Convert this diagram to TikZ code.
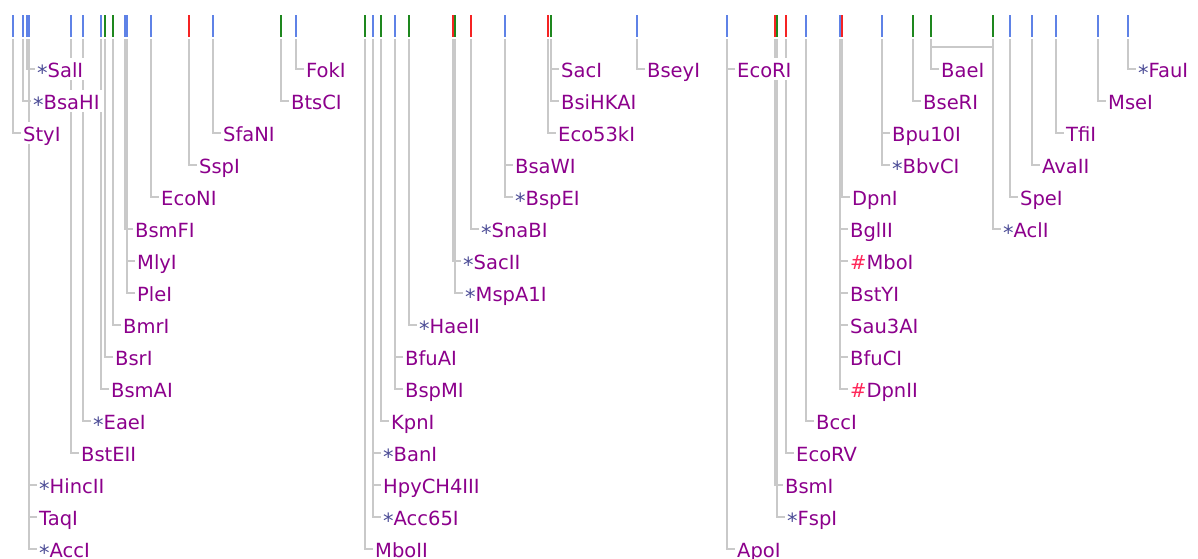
\documentclass[tikz,border=0pt]{standalone}
\usepackage{fontspec}
\setmainfont{DejaVu Sans}
\pgfdeclarelayer{background}
\pgfsetlayers{background,main}
\definecolor{siteblue}{RGB}{95,130,230}
\definecolor{sitegreen}{RGB}{30,135,30}
\definecolor{sitered}{RGB}{245,35,35}
\definecolor{enzpurple}{RGB}{140,0,140}
\definecolor{starblue}{RGB}{75,75,150}
\definecolor{hashred}{RGB}{255,40,90}
\newcommand\pfxn{}
\newcommand\pfxs{\textcolor{starblue}{\raisebox{-0.17em}{\fontsize{21}{21}\selectfont*}}}
\newcommand\pfxh{\textcolor{hashred}{\#}}
\def\enzymes{
    13/3/siteblue/n/StyI, 23/2/siteblue/s/BsaHI, 27/1/siteblue/s/SalI,
    29/14/siteblue/s/HincII, 29/15/siteblue/n/TaqI, 29/16/siteblue/s/AccI,
    71/13/siteblue/n/BstEII, 83/12/siteblue/s/EaeI, 101/11/siteblue/n/BsmAI,
    105/10/sitegreen/n/BsrI, 113/9/sitegreen/n/BmrI, 125/6/siteblue/n/BsmFI,
    127/7/siteblue/n/MlyI, 127/8/siteblue/n/PleI, 151/5/siteblue/n/EcoNI,
    189/4/sitered/n/SspI, 213/3/siteblue/n/SfaNI, 281/2/sitegreen/n/BtsCI,
    296/1/siteblue/n/FokI,
    365/16/sitegreen/n/MboII, 373/13/siteblue/s/BanI, 373/14/siteblue/n/HpyCH4III,
    373/15/siteblue/s/Acc65I, 381/12/sitegreen/n/KpnI, 395/10/siteblue/n/BfuAI,
    395/11/siteblue/n/BspMI, 409/9/sitegreen/s/HaeII, 453/7/sitered/s/SacII,
    455/8/sitegreen/s/MspA1I, 471/6/sitered/s/SnaBI, 505/4/siteblue/n/BsaWI,
    505/5/siteblue/s/BspEI, 548/3/sitered/n/Eco53kI, 551/1/sitegreen/n/SacI,
    551/2/sitegreen/n/BsiHKAI, 637/1/siteblue/n/BseyI, 727/1/siteblue/n/EcoRI,
    727/16/siteblue/n/ApoI,
    775/14/sitered/n/BsmI, 777/15/sitegreen/s/FspI, 786/13/sitered/n/EcoRV,
    806/12/siteblue/n/BccI, 842/5/sitered/n/DpnI, 840/6/siteblue/n/BglII,
    840/7/siteblue/h/MboI, 840/8/siteblue/n/BstYI, 840/9/siteblue/n/Sau3AI,
    840/10/siteblue/n/BfuCI, 840/11/siteblue/h/DpnII, 882/3/siteblue/n/Bpu10I,
    882/4/siteblue/s/BbvCI, 913/2/sitegreen/n/BseRI, 931/1/sitegreen/n/BaeI,
    993/6/sitegreen/s/AclI, 1010/5/siteblue/n/SpeI, 1032/4/siteblue/n/AvaII,
    1056/3/siteblue/n/TfiI, 1098/2/siteblue/n/MseI, 1128/1/siteblue/s/FauI}
\begin{document}
\begin{tikzpicture} [
            x=1pt, y=-1pt,
            cutmark/.style={line width=2pt},
            leader/.style={draw=black!21,line width=2pt},
            enzyme/.style={anchor=west,fill=white,inner sep=2pt,text height=17pt,text depth=1pt,
                text=enzpurple,font=\fontsize{19.5}{19.5}\selectfont},
        ]
        \useasboundingbox (0,0) rectangle (1198,558);
        \foreach \x/\r/\c/\m/\name in \enzymes {
            \coordinate (\name-top) at (\x,39);
            \draw[cutmark,\c] (\x,15) -- (\x,37);
            \node[enzyme] (\name) at (\x+8,37+32*\r) {\csname pfx\m\endcsname\name};
        }
        \coordinate (BaeI-top2) at (993,39);
        \coordinate (BaeI-join) at (931,47);
        \draw[cutmark,sitegreen] (993,15) -- (993,37);
        \begin{pgfonlayer}{background}
            \fill[white] (0,0) rectangle (1198,558);
            \foreach \x/\r/\c/\m/\name in \enzymes
                \path[leader] (\name-top) |- (\name.west);
            \path[leader] (BaeI-top2) |- (BaeI-join);
        \end{pgfonlayer}
    \end{tikzpicture}
\end{document}
